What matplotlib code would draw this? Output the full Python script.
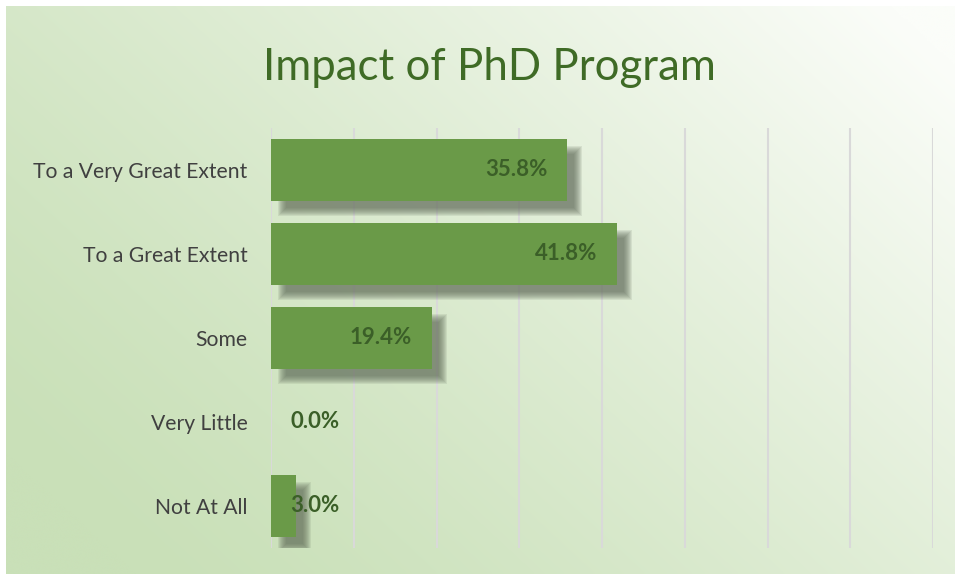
import numpy as np
import matplotlib
matplotlib.use("Agg")
import matplotlib.pyplot as plt
from matplotlib.patches import Rectangle
from matplotlib.colors import to_rgb

categories = ["To a Very Great Extent", "To a Great Extent", "Some", "Very Little", "Not At All"]
values = [35.8, 41.8, 19.4, 0.0, 3.0]
labels = ["35.8%", "41.8%", "19.4%", "0.0%", "3.0%"]

W, H = 959, 577
fig = plt.figure(figsize=(W / 100, H / 100), dpi=100)
fig.patch.set_facecolor("white")

# gradient background, lighter towards the top right
bg = fig.add_axes([6 / W, 3 / H, 949 / W, 568 / H])
gx, gy = np.meshgrid(np.linspace(0, 1, 400), np.linspace(1, 0, 240))
t = np.clip(0.7 * gx + 0.45 * gy - 0.1, 0, 1) ** 1.3
c0 = np.array(to_rgb("#c9e0b8"))
c1 = np.array(to_rgb("#fbfdf9"))
img = c0[None, None, :] * (1 - t[..., None]) + c1[None, None, :] * t[..., None]
bg.imshow(img, aspect="auto", extent=[0, 1, 0, 1], interpolation="bicubic")
bg.set_axis_off()

ax_w, ax_h = 662, 420
ax = fig.add_axes([271 / W, 1 - 548 / H, ax_w / W, ax_h / H])
ax.set_facecolor("none")
xmax = 80
ax.set_xlim(0, xmax)
ax.set_ylim(len(categories) - 0.5, -0.5)
ax.set_xticks(np.arange(0, 81, 10))
ax.xaxis.grid(True, color="#d9d9d9", linewidth=1.5)
ax.set_axisbelow(True)
ax.tick_params(axis="x", length=0, labelbottom=False)
ax.tick_params(axis="y", length=0, pad=17)
for s in ax.spines.values():
    s.set_visible(False)

y = np.arange(len(categories))
bar_h = 0.74
px_x = xmax / ax_w            # data units per pixel
px_y = len(categories) / ax_h

# soft drop shadow: stacked translucent rectangles, offset down-right
off = 11
for yi, v in zip(y, values):
    if v <= 0:
        continue
    for k in range(-4, 5):
        x0 = (off - k) * px_x
        w = v + 2 * k * px_x
        y0 = yi - bar_h / 2 + (off - k) * px_y
        h = bar_h + 2 * k * px_y
        ax.add_patch(Rectangle((x0, y0), w, h, facecolor="#5f6a58", alpha=0.12,
                               linewidth=0, zorder=2))
ax.barh(y, values, height=bar_h, color="#6a9a48", zorder=3)

ax.set_yticks(y)
ax.set_yticklabels(categories, fontsize=15.2, color="#404040", family="Lato")

for yi, v, lab in zip(y, values, labels):
    if v < 10:
        ax.text(2.3, yi, lab, ha="left", va="center", fontsize=16, fontweight="bold",
                color="#3b5f28", family="Lato", zorder=4)
    else:
        ax.text(v - 2.4, yi, lab, ha="right", va="center", fontsize=16, fontweight="bold",
                color="#3b5f28", family="Lato", zorder=4)

fig.text(489 / W, 1 - 68 / H, "Impact of PhD Program", ha="center", va="center",
         fontsize=31.5, color="#3f6b26", family="Lato")

fig.savefig("out.png", dpi=100)
